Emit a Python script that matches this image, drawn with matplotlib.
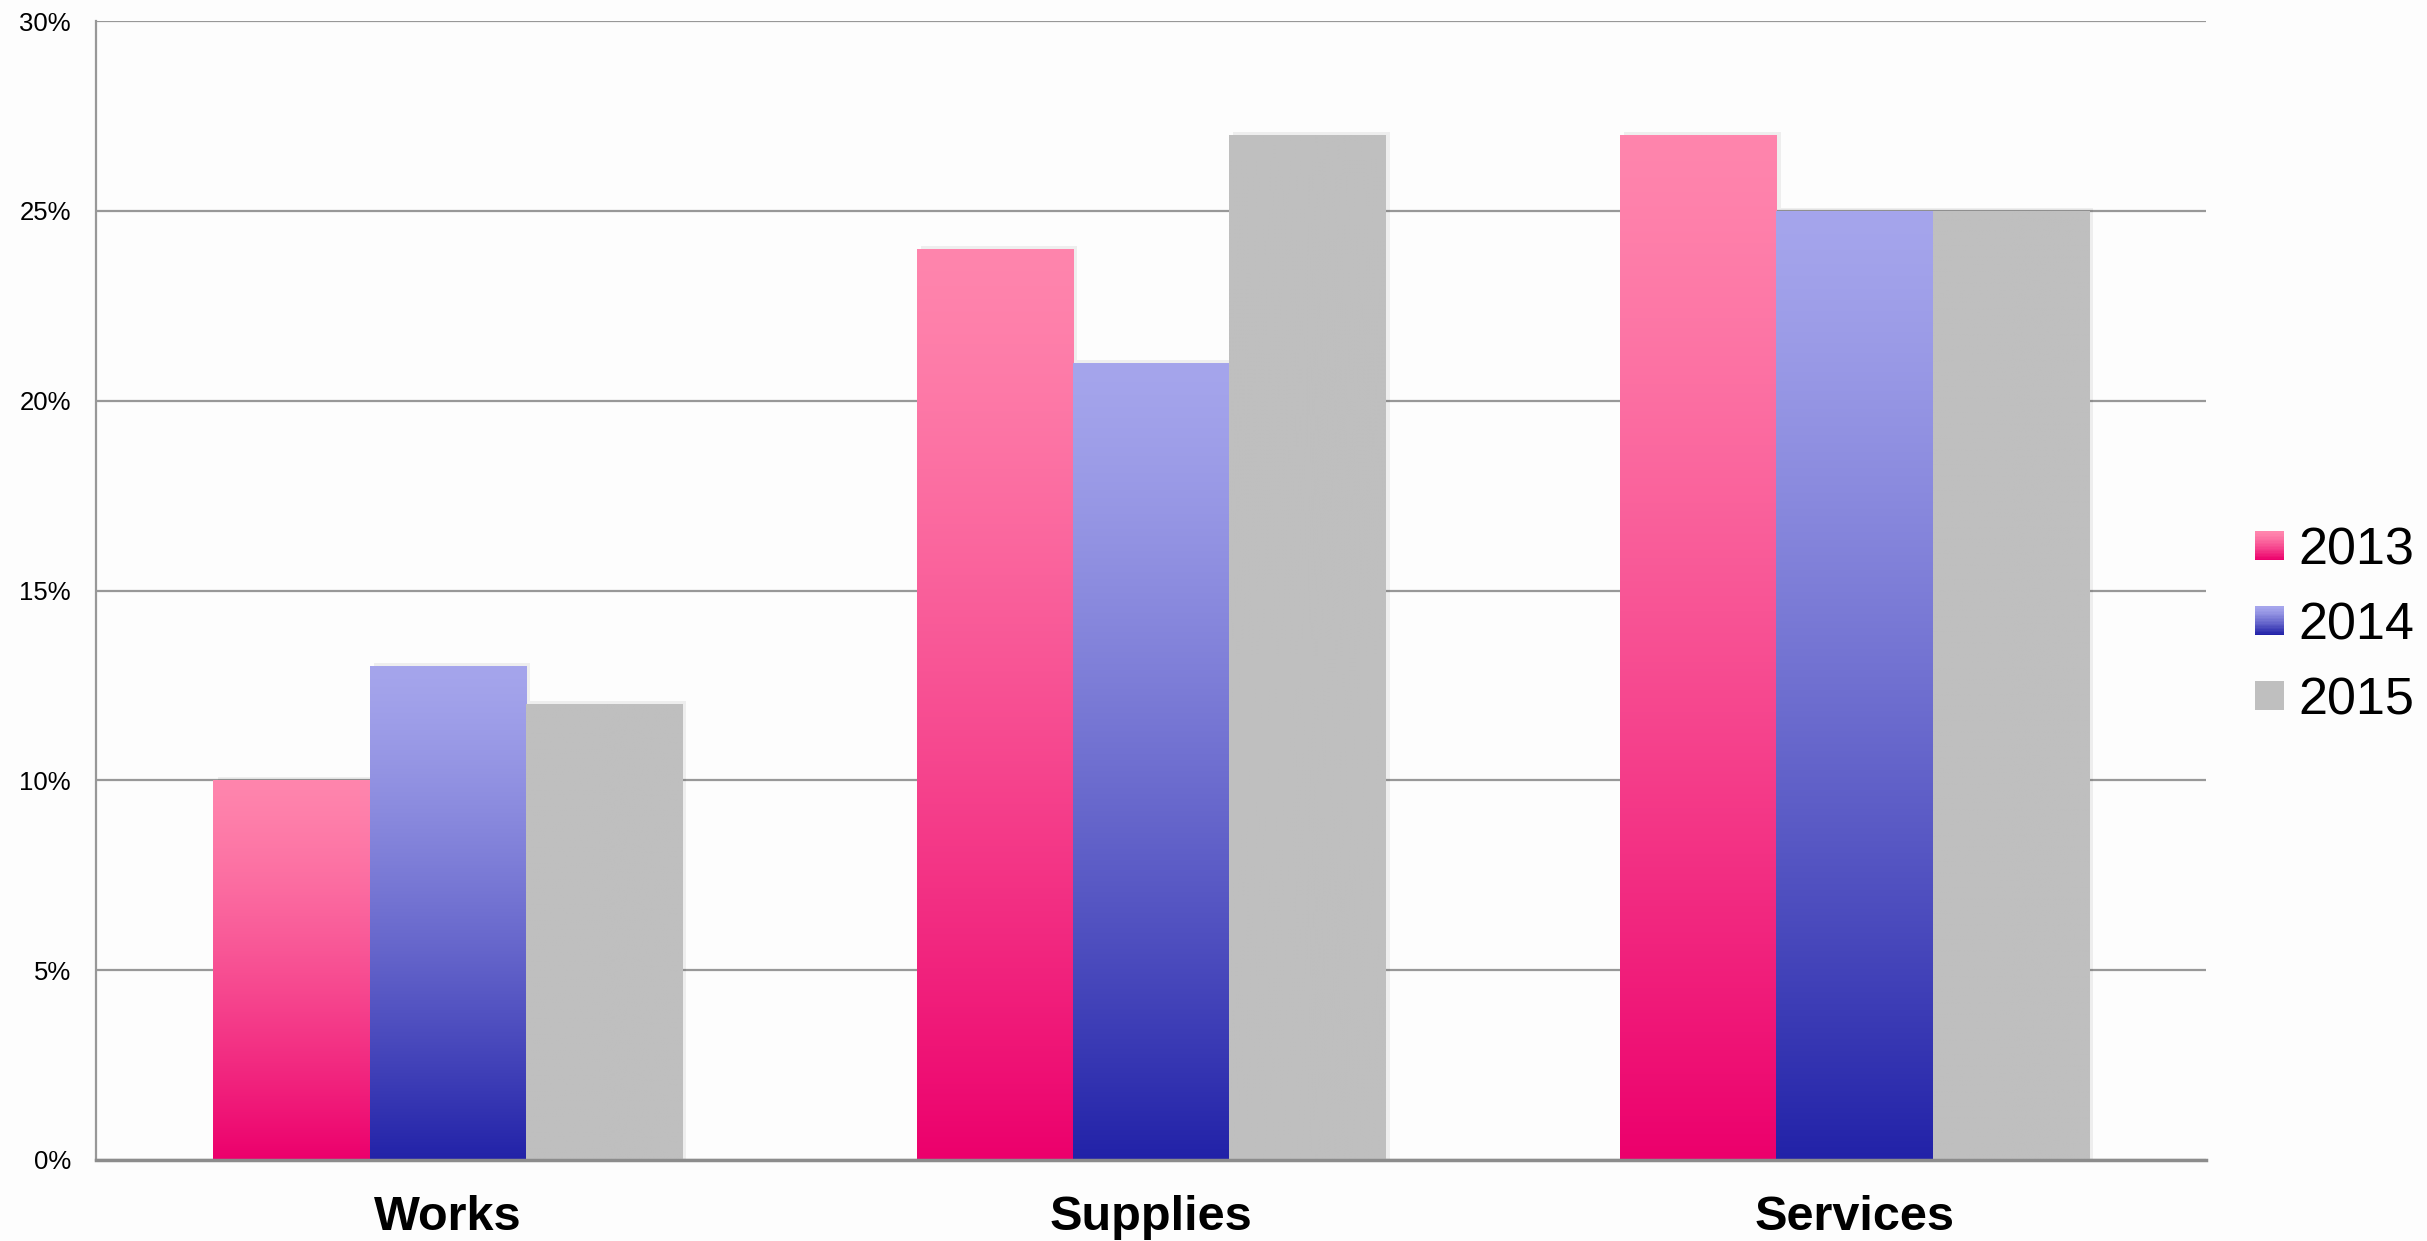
import matplotlib.pyplot as plt
import numpy as np
from matplotlib.patches import Rectangle
from matplotlib.legend_handler import HandlerBase

plt.rcParams['font.family'] = ['Liberation Sans', 'DejaVu Sans']

categories = ["Works", "Supplies", "Services"]
years = ["2013", "2014", "2015"]
values = {
    "2013": [10, 24, 27],
    "2014": [13, 21, 25],
    "2015": [12, 27, 25],
}
# (top colour, bottom colour) of each series' gradient
colors = {
    "2013": ((255, 133, 173), (236, 0, 108)),
    "2014": ((165, 165, 236), (34, 34, 168)),
    "2015": ((191, 191, 191), (191, 191, 191)),
}


def gradient(top, bottom, n=256):
    top = np.array(top) / 255.0
    bottom = np.array(bottom) / 255.0
    s = np.linspace(0, 1, n) ** 1.3
    return (top[None, :] + (bottom - top)[None, :] * s[:, None])[:, None, :]


class GradientHandler(HandlerBase):
    def __init__(self, top, bottom):
        super().__init__()
        self.top = top
        self.bottom = bottom

    def create_artists(self, legend, orig_handle, xdescent, ydescent,
                       width, height, fontsize, trans):
        side = min(width, height)
        x0 = -xdescent + (width - side) / 2
        y0 = -ydescent + (height - side) / 2
        arts = []
        grad = gradient(self.top, self.bottom, 20)
        for i in range(20):
            c = grad[i, 0]
            r = Rectangle((x0, y0 + side * (19 - i) / 20), side, side / 20 + 0.2,
                          facecolor=c, edgecolor='none', transform=trans)
            arts.append(r)
        return arts


fig = plt.figure(figsize=(24.27, 12.41), dpi=100)
fig.patch.set_facecolor('#fdfdfd')
ax = fig.add_axes([0.0396, 0.0653, 0.8694, 0.9177])
ax.set_facecolor('#fdfdfd')

x = np.arange(len(categories))
w = 1 / 4.5
handles = []
for k, yr in enumerate(years):
    top, bottom = colors[yr]
    bars = ax.bar(x + (k - 1) * w, values[yr], w, color=np.array(top) / 255,
                  edgecolor='none', zorder=3, label=yr)
    handles.append(bars)
    for b in bars:
        bx, by = b.get_x(), b.get_y()
        bw, bh = b.get_width(), b.get_height()
        # soft shadow
        ax.add_patch(Rectangle((bx + 0.006, by), bw, bh + 0.08, facecolor='#000000',
                               alpha=0.06, edgecolor='none', zorder=2))
        im = ax.imshow(gradient(top, bottom), extent=(bx, bx + bw, by, by + bh),
                       aspect='auto', zorder=4, interpolation='bilinear')
        im.set_clip_path(b)

ax.set_xlim(-0.5, 2.5)
ax.set_ylim(0, 30)
ax.set_yticks([0, 5, 10, 15, 20, 25, 30])
ax.set_yticklabels(["0%", "5%", "10%", "15%", "20%", "25%", "30%"], fontsize=18.5)
ax.set_xticks(x)
ax.set_xticklabels(categories, fontsize=35, fontweight='bold')
ax.tick_params(axis='y', length=0, pad=18)
ax.tick_params(axis='x', length=0, pad=25)
ax.yaxis.grid(True, color='#989898', linewidth=1.6, zorder=1)
for s in ['top', 'right']:
    ax.spines[s].set_visible(False)
ax.spines['left'].set_color('#989898')
ax.spines['left'].set_linewidth(1.6)
ax.spines['bottom'].set_color('#8c8c8c')
ax.spines['bottom'].set_linewidth(2.5)
ax.spines['bottom'].set_zorder(5)

handler_map = {handles[k]: GradientHandler(*colors[yr]) for k, yr in enumerate(years)}
fig.legend(handles, years, loc='center left', bbox_to_anchor=(0.910, 0.4956),
           fontsize=37.5, frameon=False, handler_map=handler_map,
           handlelength=0.55, handleheight=0.55, handletextpad=0.27, labelspacing=0.5)

fig.savefig("out.png", dpi=100, facecolor=fig.get_facecolor())
